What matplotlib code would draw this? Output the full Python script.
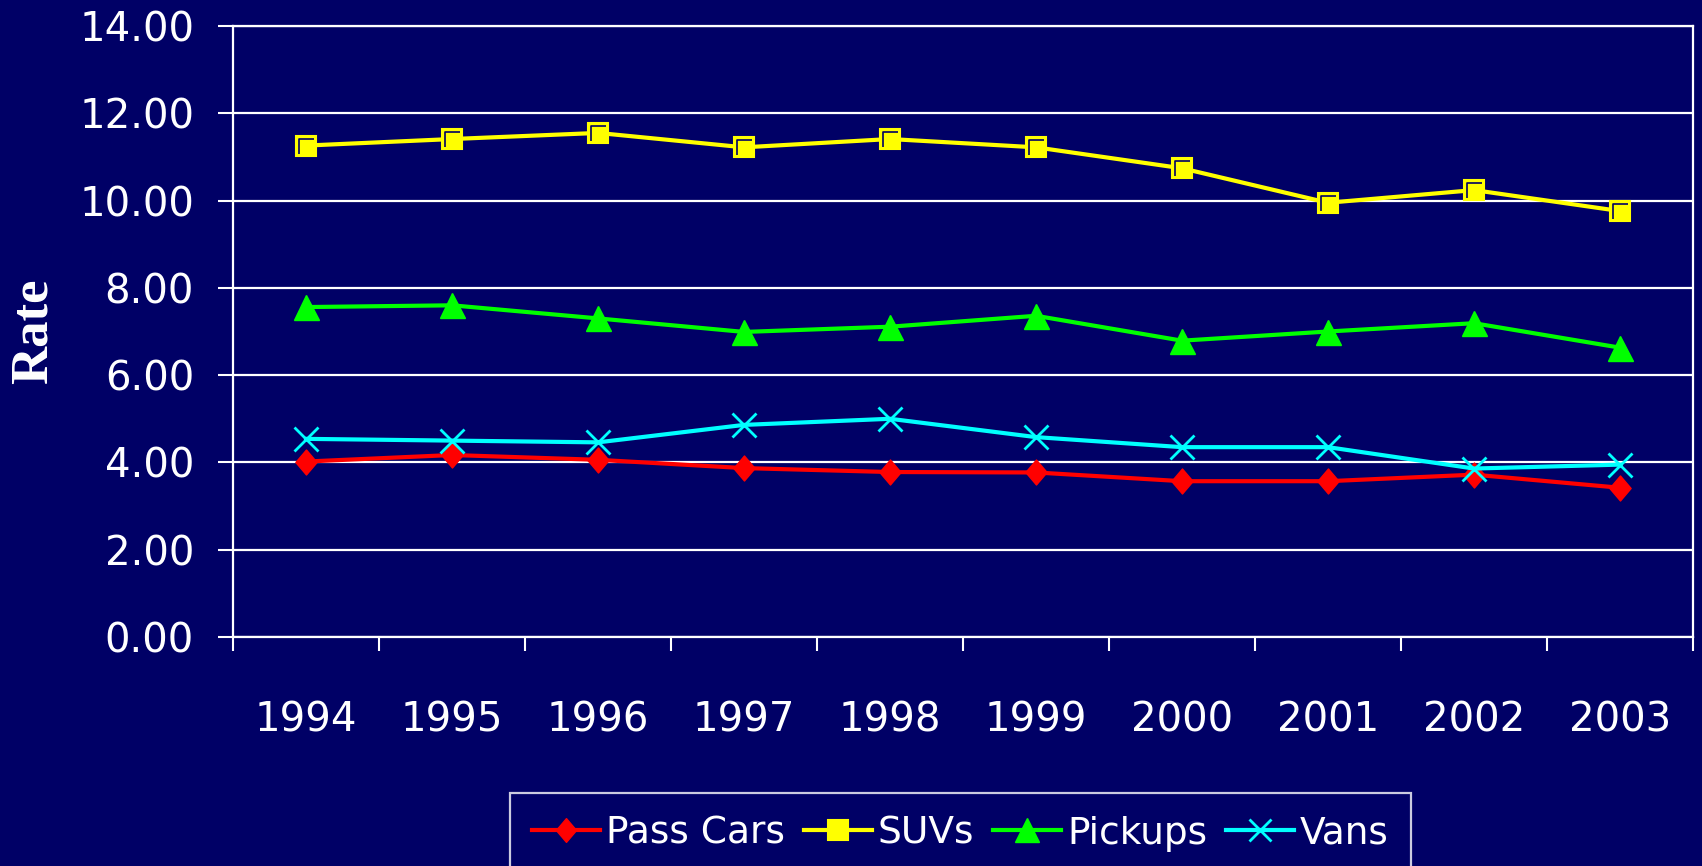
import numpy as np
import matplotlib
matplotlib.use("Agg")
from matplotlib import pyplot as plt
from matplotlib.path import Path

# values
years = ["1994", "1995", "1996", "1997", "1998", "1999", "2000", "2001", "2002", "2003"]
pass_cars = [4.02, 4.17, 4.06, 3.87, 3.78, 3.77, 3.57, 3.57, 3.72, 3.42]
suvs = [11.26, 11.41, 11.55, 11.22, 11.41, 11.22, 10.74, 9.95, 10.24, 9.76]
pickups = [7.56, 7.60, 7.30, 6.99, 7.11, 7.36, 6.79, 7.00, 7.19, 6.63]
vans = [4.54, 4.50, 4.46, 4.86, 5.00, 4.58, 4.35, 4.35, 3.86, 3.95]
y_ticks = [0, 2, 4, 6, 8, 10, 12, 14]

navy = "#000066"
plt.rcParams['font.family'] = ['DejaVu Sans']

fig = plt.figure(figsize=(17.02, 8.66), dpi=100, facecolor=navy)
ax = fig.add_axes([233/1702, 1-637/866, (1693-233)/1702, (637-26)/866])
ax.set_facecolor(navy)

x = np.arange(len(years))

# diamond like the Excel one
diamond = Path([(0, 1), (0.85, 0), (0, -1), (-0.85, 0), (0, 1)],
               [Path.MOVETO, Path.LINETO, Path.LINETO, Path.LINETO, Path.CLOSEPOLY])
# dark inner corner on the SUV squares
corner = Path([(-0.65, -0.75), (-0.65, 0.65), (0.75, 0.65)],
              [Path.MOVETO, Path.LINETO, Path.LINETO])

ax.plot(x, pass_cars, color="#FF0000", lw=3, marker=diamond, ms=18,
        mfc="#FF0000", mec="#FF0000", label="Pass Cars", zorder=5)
ax.plot(x, suvs, color="#FFFF00", lw=3, marker="s", ms=15, mfc="#FFFF00",
        mec="#FFFF00", mew=1.5, label="SUVs", zorder=5)
ax.plot(x, suvs, ls="none", marker=corner, ms=11.2, mfc="none", mec=navy,
        mew=1.2, zorder=6)
ax.plot(x, pickups, color="#00FF00", lw=3, marker="^", ms=18,
        mfc="#00FF00", mec="#00FF00", label="Pickups", zorder=5)
ax.plot(x, vans, color="#00FFFF", lw=3, marker="x", ms=17, mew=2,
        mec="#00FFFF", label="Vans", zorder=5)

# axes
ax.set_ylim(0, 14)
ax.set_xlim(-0.5, len(years) - 0.5)
ax.set_yticks(y_ticks)
ax.set_yticklabels([f"{v:.2f}" for v in y_ticks])
ax.yaxis.grid(True, color="white", lw=1.6)
ax.set_axisbelow(True)

ax.set_xticks(np.arange(-0.5, len(years), 1.0))
ax.set_xticklabels([])
ax.set_xticks(x, minor=True)
ax.set_xticklabels(years, minor=True)
ax.tick_params(axis="x", which="major", length=10, width=1.5, color="white")
ax.tick_params(axis="x", which="minor", length=0, pad=46, labelsize=29,
               labelcolor="white")
ax.tick_params(axis="y", length=11, width=1.5, color="white", pad=17,
               labelsize=29, labelcolor="white")

for s in ["left", "bottom", "right", "top"]:
    ax.spines[s].set_color("white")
    ax.spines[s].set_linewidth(1.6)

ax.set_ylabel("Rate", family="Liberation Serif", weight="bold", fontsize=38,
              color="white")
ax.yaxis.set_label_coords(-0.12, 0.5)

leg = fig.legend(*ax.get_legend_handles_labels(), loc="upper left",
                 bbox_to_anchor=(510/1702, 1-793/866), borderaxespad=0,
                 ncol=4, fontsize=27, frameon=True, fancybox=False,
                 handlelength=1.8, handletextpad=0.17, columnspacing=0.5,
                 borderpad=0.6, markerscale=0.95)
leg.get_frame().set_facecolor(navy)
leg.get_frame().set_edgecolor("white")
leg.get_frame().set_linewidth(1.6)
for t in leg.get_texts():
    t.set_color("white")

fig.savefig("out.png", dpi=100, facecolor=navy)
